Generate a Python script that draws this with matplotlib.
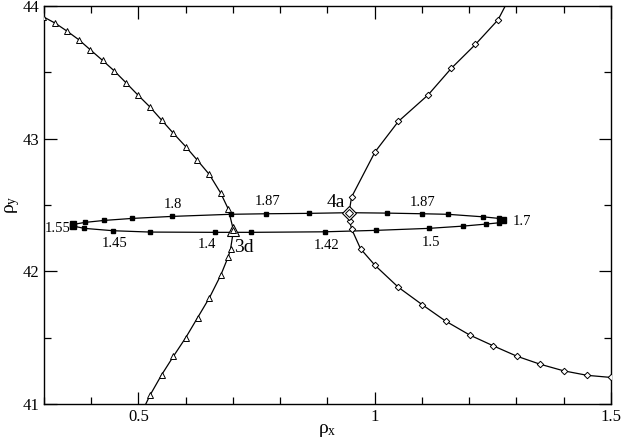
import matplotlib
matplotlib.use("Agg")
import matplotlib.pyplot as plt
from matplotlib.ticker import MultipleLocator

plt.rcParams['font.family'] = ['Liberation Serif', 'DejaVu Serif']
plt.rcParams['mathtext.fontset'] = 'stix'

# branch through 3d (open triangles)
tri_x = [0.298, 0.324, 0.349, 0.374, 0.398, 0.424, 0.449, 0.474, 0.4985, 0.524,
         0.549, 0.574, 0.600, 0.624, 0.650, 0.674, 0.690, 0.701,
         0.695, 0.690, 0.674, 0.650, 0.625, 0.600, 0.574, 0.549, 0.525, 0.510]
tri_y = [43.92, 43.87, 43.81, 43.745, 43.67, 43.59, 43.51, 43.42, 43.33, 43.24,
         43.14, 43.04, 42.94, 42.84, 42.73, 42.59, 42.47, 42.31,
         42.17, 42.11, 41.97, 41.80, 41.65, 41.50, 41.36, 41.22, 41.07, 40.96]
tri_marked = [True] * 17 + [False] + [True] * 9 + [False]

# branch through 4a (open diamonds)
dia_x = [1.285, 1.261, 1.213, 1.162, 1.113, 1.050, 1.0006, 0.951, 0.9455,
         0.947, 0.951, 0.970, 1.0006, 1.050, 1.100, 1.150, 1.201, 1.250,
         1.301, 1.350, 1.400, 1.450, 1.501]
dia_y = [44.06, 43.896, 43.71, 43.53, 43.33, 43.13, 42.90, 42.56, 42.44,
         42.38, 42.32, 42.17, 42.045, 41.88, 41.75, 41.625, 41.52, 41.44,
         41.36, 41.30, 41.25, 41.216, 41.20]
dia_marked = [False] + [True] * 7 + [False] + [True] * 14

# closed loop (filled squares)
sq_x = [0.3623, 0.387, 0.428, 0.487, 0.5706, 0.695, 0.7706, 0.861, 0.9455,
        1.025, 1.101, 1.1545, 1.229, 1.263, 1.2725,
        1.263, 1.235, 1.187, 1.115, 1.0036, 0.894, 0.7388, 0.6617, 0.525,
        0.447, 0.385, 0.3623, 0.3623]
sq_y = [42.354, 42.369, 42.384, 42.399, 42.414, 42.430, 42.434, 42.437, 42.442,
        42.439, 42.434, 42.430, 42.411, 42.399, 42.384,
        42.366, 42.356, 42.341, 42.324, 42.309, 42.298, 42.294, 42.294, 42.296,
        42.306, 42.324, 42.341, 42.354]

# labels along the loop
lab_text = ["1.55", "1.8", "1.87", "1.45", "1.4", "1.87", "1.7", "1.42", "1.5"]
lab_x = [0.356, 0.572, 0.773, 0.449, 0.644, 1.102, 1.292, 0.898, 1.118]
lab_y = [42.32, 42.507, 42.524, 42.211, 42.203, 42.517, 42.374, 42.198, 42.216]
lab_ha = ["right", "center", "center", "center", "center", "center", "left",
          "center", "center"]

fig = plt.figure(figsize=(6.23, 4.38), dpi=100)
ax = fig.add_axes([0.0706, 0.0776, 0.9101, 0.9087])

lw = 0.9
ax.plot(tri_x, tri_y, '-', color='black', lw=lw, zorder=2)
ax.plot([x for x, m in zip(tri_x, tri_marked) if m],
        [y for y, m in zip(tri_y, tri_marked) if m],
        '^', ms=4.8, mfc='white', mec='black', mew=0.7, zorder=3)

ax.plot(dia_x, dia_y, '-', color='black', lw=lw, zorder=2)
ax.plot([x for x, m in zip(dia_x, dia_marked) if m],
        [y for y, m in zip(dia_y, dia_marked) if m],
        'D', ms=3.3, mfc='white', mec='black', mew=0.7, zorder=3)

ax.plot(sq_x, sq_y, '-', color='black', lw=lw, zorder=2)
ax.plot(sq_x[:-1], sq_y[:-1], 's', ms=3.3, color='black', zorder=4)
# tips slightly larger
ax.plot([sq_x[14], sq_x[0], sq_x[26]], [sq_y[14], sq_y[0], sq_y[26]], 's',
        ms=4.3, color='black', zorder=4)

# special points 3d and 4a
ax.plot([tri_x[17]], [tri_y[17]], '^', ms=9, mfc='white', mec='black',
        mew=0.8, zorder=5)
ax.plot([tri_x[17]], [tri_y[17]], '^', ms=4.5, mfc='white', mec='black',
        mew=0.7, zorder=6)
ax.plot([dia_x[8]], [dia_y[8]], 'D', ms=7.5, mfc='white', mec='black',
        mew=0.8, zorder=5)
ax.plot([dia_x[8]], [dia_y[8]], 'D', ms=4, mfc='white', mec='black',
        mew=0.7, zorder=6)

for t, x, y, ha in zip(lab_text, lab_x, lab_y, lab_ha):
    ax.text(x, y, t, ha=ha, va='center', fontsize=10.5)
ax.text(0.703, 42.178, "3d", ha='left', va='center', fontsize=14)
ax.text(0.9364, 42.517, "4a", ha='right', va='center', fontsize=14)

ax.set_xlim(0.3, 1.5)
ax.set_ylim(41, 44)
ax.xaxis.set_major_locator(MultipleLocator(0.5))
ax.xaxis.set_minor_locator(MultipleLocator(0.1))
ax.yaxis.set_major_locator(MultipleLocator(1))
ax.yaxis.set_minor_locator(MultipleLocator(0.5))
ax.set_xticks([0.5, 1, 1.5])
ax.set_xticklabels(["0.5", "1", "1.5"])
ax.tick_params(which='both', direction='in', top=True, right=True,
               labelsize=12, width=0.9)
ax.tick_params(which='major', length=9)
ax.tick_params(which='minor', length=5)
for s in ax.spines.values():
    s.set_linewidth(1.0)

ax.set_xlabel(r'$\mathregular{\rho_x}$', fontsize=14, labelpad=-2)
ax.set_ylabel(r'$\mathregular{\rho_y}$', fontsize=14, labelpad=0)

fig.savefig("out.png", dpi=100)
